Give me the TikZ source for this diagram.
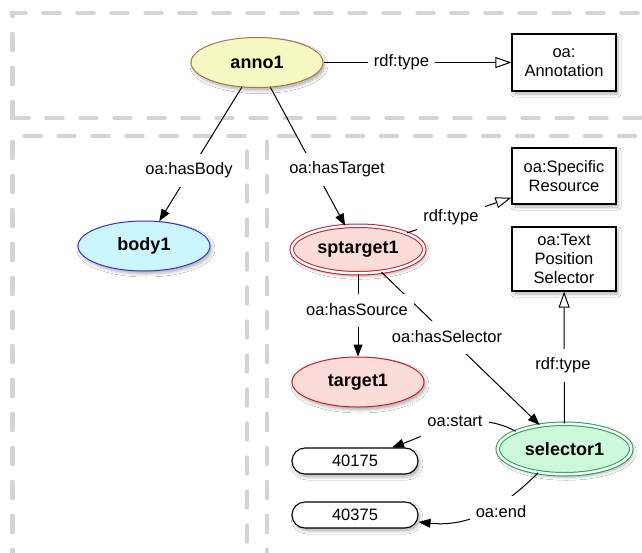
\documentclass[tikz,border=0pt]{standalone}
\usepackage{fontspec}
\setmainfont{Liberation Sans}
\usetikzlibrary{shapes.geometric,arrows.meta,shadows.blur}
\definecolor{dashgray}{HTML}{D4D4D4}
\definecolor{annofill}{HTML}{F5F8C2}
\definecolor{annodraw}{HTML}{A07C48}
\definecolor{bodyfill}{HTML}{CCF6FF}
\definecolor{bodydraw}{HTML}{3434C8}
\definecolor{tgtfill}{HTML}{FCDCD8}
\definecolor{tgtdraw}{HTML}{C0202C}
\definecolor{selfill}{HTML}{CCF8DC}
\definecolor{seldraw}{HTML}{20A050}
\newcommand{\labfont}{\fontsize{16.5}{19}\selectfont}
\begin{document}
\begin{tikzpicture}[x=1pt,y=-1pt,
  region/.style={draw=dashgray, line width=4.5pt, dash pattern=on 16pt off 18pt, line cap=round},
  shad/.style={blur shadow={shadow xshift=2pt, shadow yshift=-3pt, shadow blur radius=3pt, shadow opacity=30}},
  res/.style={ellipse, minimum width=132pt, minimum height=50pt, inner sep=0pt, line width=1pt,
    font=\fontsize{18}{20}\selectfont\bfseries, shad},
  dres/.style={res, double=white, double distance=2.5pt, line width=1pt},
  cls/.style={draw, line width=1.2pt, fill=white, minimum width=104pt, inner sep=0pt, align=center, font=\labfont, shad},
  val/.style={draw, line width=1.1pt, fill=white, rounded corners=13pt, minimum width=126pt, minimum height=26pt, inner sep=0pt, font=\labfont, shad},
  lab/.style={fill=white, inner xsep=6pt, inner ysep=0pt, minimum height=33pt, font=\labfont},
  edge/.style={line width=1pt},
  arr/.style={edge, -{Triangle[length=12pt,width=9pt]}},
  typ/.style={edge, -{Triangle[open,length=16pt,width=11pt,fill=white]}}
]
\useasboundingbox[fill=white] (0,0) rectangle (642,552);
% regions
\draw[region] (12.5,118) -- (12.5,13) -- (720,13);
\draw[region] (12.5,118) -- (720,118);
\draw[region] (12.5,600) -- (12.5,136) -- (247,136) -- (247,600);
\draw[region] (267,600) -- (267,136) -- (720,136);
% nodes
\node[res, draw=annodraw, fill=annofill] (anno1) at (257,62.5) {anno1};
\node[res, draw=bodydraw, fill=bodyfill] (body1) at (144,246) {body1};
\node[dres, minimum width=132.5pt, minimum height=47.5pt, draw=tgtdraw, fill=tgtfill] (sptarget1) at (358,249.5) {sptarget1};
\node[res, draw=tgtdraw, fill=tgtfill] (target1) at (358,382) {target1};
\node[dres, minimum width=133.5pt, minimum height=50.5pt, draw=seldraw, fill=selfill] (selector1) at (564.5,449) {selector1};
\node[cls, minimum height=57pt] (annocls) at (564,62.5) {oa:\\Annotation};
\node[cls, minimum height=56pt] (spres) at (564,176) {oa:Specific\\Resource};
\node[cls, minimum height=64pt] (tps) at (564,259) {oa:Text\\Position\\Selector};
\node[val] (v1) at (355,461) {40175};
\node[val] (v2) at (355,515) {40375};
% edges
\draw[typ] (anno1) -- (annocls);
\draw[arr] (anno1) -- (body1);
\draw[arr] (anno1) -- (sptarget1);
\draw[typ] (sptarget1) -- ([yshift=7pt]spres.south west);
\draw[arr] (sptarget1) -- (target1);
\draw[arr] (sptarget1) -- (selector1);
\draw[typ] (selector1) -- (tps);
\draw[arr] (selector1.160) to[out=152,in=20] ([xshift=37pt]v1.north);
\draw[arr] (selector1.222) to[out=225,in=-6] ([yshift=-7pt]v2.east);
% labels
\node[lab] (l1) at (401.5,62) {rdf:type};
\node[lab] (l2) at (189,170) {oa:hasBody};
\node[lab] (l3) at (337,169) {oa:hasTarget};
\node[lab] (l4) at (451,217) {rdf:type};
\node[lab] (l5) at (357,310) {oa:hasSource};
\node[lab] (l6) at (447,337) {oa:hasSelector};
\node[lab] (l7) at (563,365) {rdf:type};
\node[lab] (l8) at (455,421) {oa:start};
\node[lab] (l9) at (501,512) {oa:end};
\end{tikzpicture}
\end{document}
